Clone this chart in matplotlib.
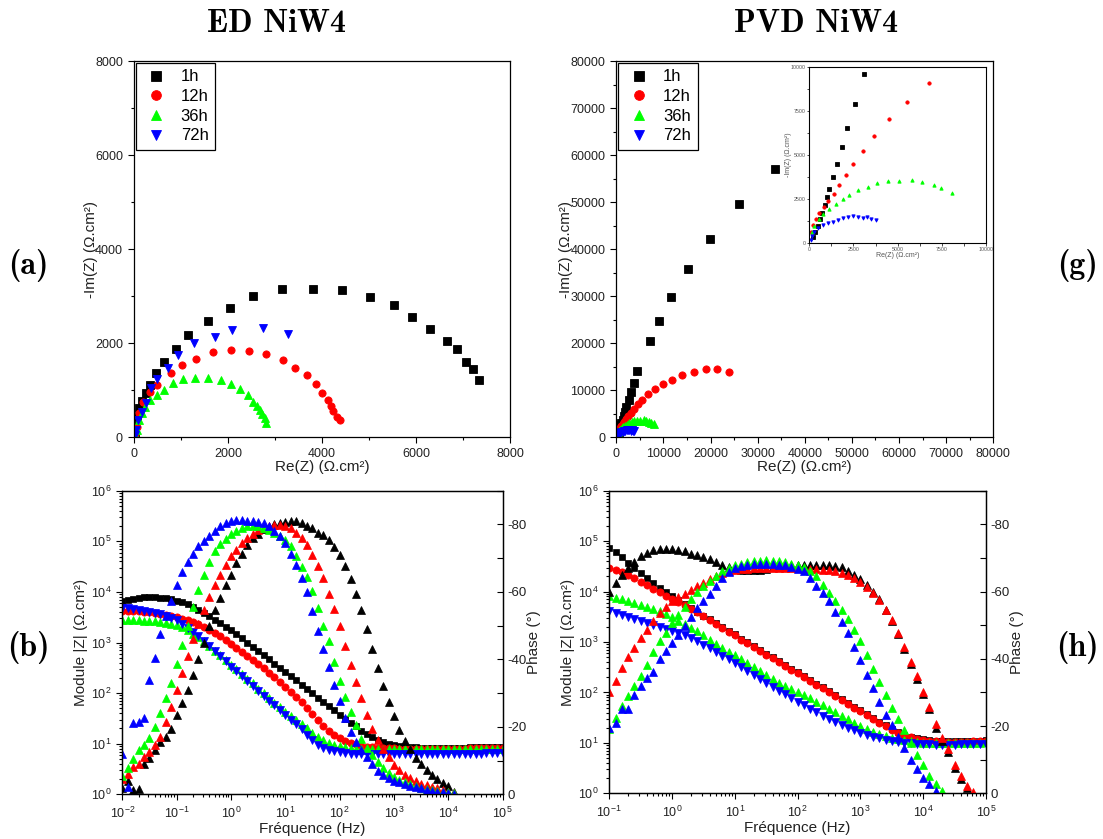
import numpy as np
import matplotlib
matplotlib.use("Agg")
import matplotlib.pyplot as plt
from matplotlib.ticker import MultipleLocator, LogLocator, NullFormatter, FuncFormatter

plt.rcParams['font.family'] = ['Liberation Sans', 'DejaVu Sans']
plt.rcParams['axes.unicode_minus'] = False
plt.rcParams['mathtext.fontset'] = 'custom'
plt.rcParams['mathtext.rm'] = 'Liberation Sans'
plt.rcParams['mathtext.it'] = 'Liberation Sans:italic'
plt.rcParams['mathtext.bf'] = 'Liberation Sans:bold'

labels = ['1h', '12h', '36h', '72h']
colors = ['#000000', '#ff0000', '#00ff00', '#0000ff']
mod_markers = ['s', 'o', '^', 'v']

# ---- Nyquist ED NiW4 (Re, -Im) in ohm.cm2
ed_re_1h = [15, 30, 57, 106, 177, 255, 340, 461, 631, 886, 1156, 1567, 2035, 2538, 3141, 3800,
            4424, 5020, 5530, 5913, 6296, 6658, 6863, 7070, 7220, 7350]
ed_im_1h = [80, 250, 440, 616, 780, 935, 1112, 1375, 1594, 1878, 2183, 2480, 2757, 3012, 3160, 3160,
            3139, 2990, 2820, 2565, 2310, 2055, 1885, 1610, 1450, 1220]
ed_re_12h = [20, 57, 113, 199, 340, 496, 780, 1021, 1319, 1687, 2056, 2446, 2815, 3162, 3432, 3680,
             3871, 4006, 4126, 4197, 4240, 4311, 4382]
ed_im_12h = [60, 227, 510, 758, 970, 1105, 1360, 1545, 1665, 1814, 1864, 1842, 1779, 1637, 1467, 1318,
             1127, 935, 801, 666, 560, 439, 368]
ed_re_36h = [30, 57, 99, 163, 234, 340, 482, 631, 822, 1049, 1297, 1567, 1850, 2056, 2262, 2432,
             2524, 2616, 2680, 2730, 2779, 2808]
ed_im_36h = [40, 156, 368, 524, 652, 794, 900, 1006, 1148, 1233, 1268, 1261, 1219, 1134, 1035, 900,
             758, 666, 581, 496, 404, 312]
ed_re_72h = [25, 50, 92, 163, 255, 355, 489, 716, 936, 1283, 1723, 2092, 2737, 3276]
ed_im_72h = [40, 156, 368, 546, 723, 1042, 1240, 1481, 1750, 1998, 2126, 2275, 2317, 2190]

# ---- Nyquist PVD NiW4 (low range, also shown in the inset)
pvd_re_1h = [189, 341, 473, 606, 739, 871, 985, 1098, 1326, 1572, 1837, 2140, 2595, 3106]
pvd_im_1h = [342, 627, 951, 1331, 1711, 2148, 2605, 3061, 3745, 4468, 5437, 6540, 7928, 9620]
pvd_re_12h = [95, 227, 379, 568, 814, 1080, 1383, 1705, 2064, 2462, 3030, 3674, 4508, 5530, 6761]
pvd_im_12h = [627, 1008, 1331, 1673, 2015, 2376, 2795, 3289, 3840, 4487, 5247, 6084, 7034, 8004, 9106]
pvd_re_36h = [133, 284, 530, 795, 1136, 1515, 1894, 2273, 2746, 3295, 3826, 4432, 5076, 5795,
              6383, 7045, 7462, 8049]
pvd_im_36h = [627, 970, 1331, 1635, 1920, 2206, 2472, 2719, 2985, 3194, 3384, 3498, 3536, 3574,
              3460, 3270, 3099, 2814]
pvd_re_72h = [76, 152, 284, 473, 758, 1042, 1326, 1610, 1894, 2178, 2500, 2784, 3030, 3258, 3504, 3788]
pvd_im_72h = [152, 380, 627, 817, 1008, 1141, 1198, 1293, 1388, 1483, 1540, 1483, 1388, 1483, 1331, 1293]
# low-frequency points beyond the inset range
pvd_re_1h_ext = [3680, 4450, 7070, 9050, 11670, 15130, 19800, 25950, 33720]
pvd_im_1h_ext = [11630, 14180, 20560, 24820, 29920, 35730, 42260, 49700, 57000]
pvd_re_12h_ext = [8200, 9970, 11800, 14000, 16470, 18950, 21420, 23900]
pvd_im_12h_ext = [10210, 11340, 12190, 13260, 13970, 14460, 14460, 13970]

# ---- Bode: frequencies (10 points per decade)
decade = [1.0, 1.259, 1.585, 1.995, 2.512, 3.162, 3.981, 5.012, 6.310, 7.943]
freq_ed = [m * 10.0 ** e for e in range(-2, 5) for m in decade] + [1e5]
freq_pvd = [m * 10.0 ** e for e in range(-1, 5) for m in decade] + [1e5]

# ED |Z| (ohm.cm2)
ed_mod_1h = [6760, 6920, 7240, 7590, 7760, 7760, 7760, 7590, 7410, 7080,
             6760, 6310, 5750, 5130, 4470, 3890, 3310, 2820, 2400, 2040,
             1740, 1450, 1200, 1000, 832, 692, 562, 468, 380, 316,
             263, 214, 178, 145, 120, 100, 81.3, 67.6, 55.0, 45.7,
             37.2, 30.9, 25.7, 21.9, 18.2, 15.8, 13.8, 12.0, 10.7, 10.0,
             9.33, 8.91, 8.71, 8.51, 8.5, 8.4, 8.4, 8.3, 8.3, 8.3,
             8.3, 8.4, 8.4, 8.4, 8.5, 8.5, 8.5, 8.6, 8.6, 8.7, 8.8]
ed_mod_12h = [4170, 4170, 4170, 4170, 4070, 3980, 3890, 3720, 3550, 3390,
              3160, 2950, 2750, 2510, 2290, 2040, 1780, 1550, 1320, 1120,
              955, 794, 661, 550, 457, 380, 309, 251, 204, 166,
              135, 107, 85.1, 66.1, 50.1, 38.0, 28.8, 22.4, 17.8, 14.8,
              12.9, 11.5, 10.5, 9.77, 9.12, 8.71, 8.51, 8.32, 8.2, 8.1,
              8.1, 8.0, 8.0, 8.0, 8.0, 8.0, 8.0, 8.0, 8.0, 8.0,
              8.0, 8.0, 8.0, 8.0, 8.1, 8.1, 8.1, 8.2, 8.2, 8.3, 8.3]
ed_mod_36h = [2820, 2820, 2750, 2750, 2690, 2690, 2630, 2570, 2450, 2340,
              2240, 2000, 1740, 1480, 1260, 1050, 851, 692, 562, 447,
              363, 295, 240, 191, 155, 123, 100, 79.4, 64.6, 52.5,
              42.7, 35.5, 29.5, 24.5, 20.0, 16.6, 13.8, 11.7, 10.5, 9.55,
              8.91, 8.51, 8.13, 7.94, 7.8, 7.8, 7.8, 7.8, 7.8, 7.8,
              7.8, 7.8, 7.8, 7.8, 7.8, 7.8, 7.8, 7.8, 7.8, 7.8,
              7.8, 7.8, 7.8, 7.7, 7.7, 7.7, 7.7, 7.7, 7.7, 7.8, 7.9]
ed_mod_72h = [4790, 4790, 4680, 4470, 4270, 4070, 3890, 3630, 3390, 3090,
              2820, 2340, 1950, 1620, 1320, 1070, 851, 692, 537, 427,
              331, 269, 219, 174, 138, 110, 89.1, 70.8, 57.5, 45.7,
              37.2, 29.5, 24.0, 19.1, 14.8, 11.7, 9.55, 8.32, 7.59, 7.08,
              6.76, 6.46, 6.3, 6.3, 6.3, 6.3, 6.3, 6.3, 6.3, 6.3,
              6.3, 6.3, 6.3, 6.3, 6.3, 6.3, 6.3, 6.3, 6.3, 6.3,
              6.3, 6.3, 6.3, 6.3, 6.3, 6.4, 6.4, 6.5, 6.5, 6.6, 6.7]

# ED phase (deg), up to the last visible point
ed_ph_1h = [-2.0, -4.0, -1.3, -1.6, -9.0, -10.8, -13.0, -15.4, -17.0, -19.5,
            -23.4, -27.2, -30.8, -35.5, -40.0, -45.0, -50.0, -54.5, -58.1, -62.0,
            -65.0, -68.5, -71.2, -73.9, -75.9, -77.3, -78.5, -79.3, -80.0, -80.5,
            -80.8, -81.0, -81.0, -80.5, -79.5, -78.8, -77.5, -76.9, -75.5, -73.2,
            -70.8, -67.6, -63.8, -59.4, -54.5, -49.1, -43.0, -37.5, -32.0, -27.4,
            -23.2, -19.0, -15.8, -13.3, -10.8, -9.0, -7.2, -5.8, -4.4, -3.3,
            -2.4, -0.8]
ed_ph_12h = [-4.5, -6.0, -8.0, -9.0, -11.0, -12.5, -14.5, -17.0, -21.5, -26.0,
             -31.0, -36.0, -41.0, -46.0, -50.5, -54.5, -58.5, -62.0, -65.0, -68.0,
             -70.5, -72.5, -74.5, -76.0, -77.3, -78.3, -79.0, -79.5, -79.8, -79.8,
             -79.6, -79.0, -77.5, -76.0, -74.0, -71.0, -67.8, -64.0, -59.5, -55.0,
             -50.0, -44.0, -38.4, -33.3, -28.4, -23.4, -19.5, -16.0, -13.5, -11.0,
             -8.8, -7.2, -5.8, -4.7, -3.8, -3.1, -2.7, -2.3, -1.8, -1.3,
             -0.8, -0.4]
ed_ph_36h = [-5.5, -7.9, -10.6, -13.0, -14.6, -16.6, -20.0, -24.1, -28.4, -33.0,
             -38.7, -44.3, -50.0, -55.5, -60.5, -65.0, -69.0, -72.0, -74.2, -75.7,
             -77.1, -78.1, -78.8, -79.4, -79.5, -79.4, -79.0, -78.3, -77.5, -76.7,
             -75.5, -73.5, -70.5, -67.5, -64.5, -60.2, -55.3, -50.0, -45.3, -39.2,
             -33.5, -28.8, -24.5, -20.6, -16.5, -13.6, -11.6, -9.6, -7.8, -6.3,
             -5.0, -4.1, -3.5, -3.0, -2.4, -2.0, -1.6, -1.3, -1.0, -0.8,
             -0.6, -0.3]
ed_ph_72h = [-12.0, -2.3, -21.0, -21.5, -22.5, -34.0, -40.4, -47.5, -53.0, -57.4,
             -62.0, -66.0, -68.8, -71.2, -73.5, -75.0, -76.7, -78.1, -79.5, -80.4,
             -80.9, -81.2, -81.3, -81.1, -80.9, -80.8, -80.5, -79.5, -78.0, -76.5,
             -74.5, -71.2, -68.0, -64.0, -60.0, -54.2, -48.5, -43.0, -37.8, -32.5,
             -27.6, -22.5, -18.5, -15.5, -13.0, -11.0, -8.9, -7.0, -5.8, -4.8,
             -4.0, -3.5, -3.0, -2.6, -2.2, -1.8, -1.4, -1.1, -0.8, -0.6,
             -0.3, -0.1]

# PVD |Z| (ohm.cm2)
pvd_mod_1h = [72400, 60300, 47900, 37200, 28800, 22900, 18200, 14800, 12000, 9770,
              8130, 6760, 5620, 4680, 3980, 3310, 2820, 2340, 2000, 1660,
              1410, 1170, 1000, 832, 708, 589, 501, 417, 355, 295,
              251, 209, 178, 148, 126, 105, 89.1, 74.1, 63.1, 52.5,
              44.7, 37.2, 31.6, 26.3, 22.4, 19.1, 16.2, 14.5, 13.2, 12.3,
              11.7, 11.2, 11.0, 10.8, 10.7, 10.7, 10.8, 10.8, 10.9, 11.0, 11.2]
pvd_mod_12h = [29500, 26900, 24000, 21400, 18600, 15800, 13500, 11500, 9770, 8320,
               7240, 6170, 5370, 4570, 3890, 3310, 2690, 2240, 1910, 1580,
               1350, 1120, 955, 794, 676, 562, 479, 398, 339, 282,
               240, 200, 170, 141, 120, 100, 85.1, 70.8, 60.3, 50.1,
               42.7, 35.5, 30.2, 25.1, 21.4, 18.2, 15.8, 14.1, 12.9, 12.0,
               11.5, 11.0, 10.7, 10.5, 10.5, 10.5, 10.6, 10.6, 10.7, 10.8, 11.0]
pvd_mod_36h = [8320, 7590, 7080, 6610, 6030, 5500, 5010, 4570, 4070, 3550,
               3090, 2630, 2240, 1910, 1620, 1350, 1120, 933, 776, 646,
               550, 457, 380, 316, 263, 219, 182, 155, 132, 115,
               100, 87.1, 75.9, 64.6, 56.2, 47.9, 40.7, 34.7, 29.5, 25.1,
               21.9, 19.1, 16.6, 14.8, 13.5, 12.6, 11.7, 11.2, 10.7, 10.2,
               10.0, 10.0, 9.9, 9.9, 9.9, 9.9, 9.9, 10.0, 10.0, 10.1, 10.2]
pvd_mod_72h = [4170, 3800, 3470, 3160, 2880, 2630, 2400, 2190, 2000, 1820,
               1660, 1510, 1350, 1200, 1050, 891, 759, 631, 537, 457,
               380, 316, 263, 219, 182, 151, 126, 107, 91.2, 77.6,
               66.1, 56.2, 47.9, 40.7, 34.7, 30.2, 26.3, 22.9, 20.0, 17.8,
               15.8, 14.5, 13.2, 12.3, 11.5, 11.0, 10.5, 10.0, 9.77, 9.55,
               9.3, 9.3, 9.2, 9.2, 9.2, 9.2, 9.3, 9.3, 9.4, 9.5, 9.6]

# PVD phase (deg)
pvd_ph_1h = [-60.0, -62.5, -65.0, -67.0, -68.7, -70.5, -71.5, -72.5, -72.7, -72.7,
             -72.6, -72.3, -72.0, -71.3, -70.8, -70.3, -69.7, -68.8, -68.0, -67.3,
             -66.8, -66.5, -66.3, -66.3, -66.5, -66.8, -67.2, -67.6, -67.9, -68.0,
             -68.0, -68.0, -68.0, -68.0, -68.0, -67.9, -67.7, -67.2, -66.2, -65.0,
             -63.6, -62.1, -59.9, -57.7, -54.5, -51.3, -47.3, -43.0, -38.5, -34.0,
             -29.5, -25.0, -19.5, -15.5, -12.3, -7.5, -4.4, -1.5]
pvd_ph_12h = [-30.0, -33.5, -37.3, -40.5, -43.2, -46.2, -48.7, -51.3, -53.6, -55.5,
              -57.3, -58.3, -59.2, -60.6, -61.6, -62.6, -63.6, -64.5, -65.4, -66.0,
              -66.5, -66.7, -66.8, -66.9, -67.0, -67.0, -67.1, -67.1, -67.1, -67.0,
              -66.9, -66.8, -66.8, -66.7, -66.5, -66.3, -66.0, -65.6, -65.0, -64.0,
              -62.8, -61.5, -59.5, -57.5, -54.5, -51.5, -47.8, -43.6, -39.2, -34.8,
              -30.2, -25.8, -20.5, -16.5, -13.3, -8.5, -5.2, -2.3, -0.3]
pvd_ph_36h = [-19.0, -22.5, -26.0, -29.0, -32.0, -35.0, -38.3, -42.0, -45.3, -47.8,
              -50.6, -53.1, -55.4, -57.7, -60.0, -61.6, -63.1, -64.5, -66.0, -67.0,
              -67.8, -68.3, -68.8, -69.0, -69.2, -69.3, -69.2, -69.1, -68.8, -68.3,
              -67.8, -67.2, -66.2, -64.6, -62.1, -59.6, -57.2, -54.4, -51.8, -48.6,
              -45.2, -41.2, -37.0, -33.2, -29.1, -25.3, -22.2, -18.8, -15.0, -11.5,
              -8.3, -5.2, -2.7, -0.8]
pvd_ph_72h = [-19.5, -21.0, -25.0, -25.2, -29.3, -32.0, -34.2, -36.2, -40.0, -42.3,
              -44.6, -47.2, -49.8, -52.4, -55.0, -57.2, -59.3, -61.6, -64.0, -65.8,
              -66.9, -67.6, -68.0, -68.2, -68.3, -68.3, -68.2, -68.0, -67.8, -67.4,
              -66.7, -66.0, -64.1, -61.8, -59.7, -57.2, -54.0, -51.0, -47.8, -43.6,
              -39.6, -35.3, -31.3, -27.3, -23.4, -20.2, -16.8, -13.5, -10.0, -7.1,
              -4.6, -2.7, -0.7]

TXT = '#222222'
W, H = 1103, 839


def rect(left, top, right, bottom):
    return [left / W, 1 - bottom / H, (right - left) / W, (bottom - top) / H]


def pow10(v, pos):
    return '$10^{%d}$' % int(round(np.log10(v)))


def style_axis(ax, size=9):
    for s in ax.spines.values():
        s.set_linewidth(0.9)
    ax.tick_params(which='both', direction='out', top=False, right=False,
                   labelsize=size, labelcolor=TXT)
    ax.tick_params(which='major', length=4.5, width=0.8)
    ax.tick_params(which='minor', length=2.5, width=0.8)


def nyquist(ax, res, ims, lim, major, minor, ms, legend=True):
    for x, y, c, mk, lab in zip(res, ims, colors, mod_markers, labels):
        ax.plot(x, y, ls='none', marker=mk, color=c, ms=ms, mew=0.6, label=lab)
    ax.set_xlim(0, lim)
    ax.set_ylim(0, lim)
    ax.xaxis.set_major_locator(MultipleLocator(major))
    ax.yaxis.set_major_locator(MultipleLocator(major))
    ax.xaxis.set_minor_locator(MultipleLocator(minor))
    ax.yaxis.set_minor_locator(MultipleLocator(minor))
    if legend:
        leg = ax.legend(loc='upper left', bbox_to_anchor=(0, 1), borderaxespad=0.1,
                        fontsize=12, fancybox=False, edgecolor='black', framealpha=1,
                        handlelength=1.7, handletextpad=0.6, borderpad=0.4,
                        labelspacing=0.28, markerscale=1.35, numpoints=1)
        leg.get_frame().set_linewidth(0.9)


def bode(ax, freq, mods, phases, xmin):
    sizes = [4.6, 5.2, 5.6, 5.6]
    for mod, c, mk, ms in zip(mods, colors, mod_markers, sizes):
        ax.plot(freq[:len(mod)], mod, ls='none', marker=mk, color=c, ms=ms, mew=0.5)
    ax.set_xscale('log')
    ax.set_yscale('log')
    ax.set_xlim(xmin, 1e5)
    ax.set_ylim(1, 1e6)
    for axis in (ax.xaxis, ax.yaxis):
        axis.set_major_locator(LogLocator(base=10, numticks=20))
        axis.set_major_formatter(FuncFormatter(pow10))
        axis.set_minor_locator(LogLocator(base=10, subs=np.arange(2, 10), numticks=20))
        axis.set_minor_formatter(NullFormatter())
    style_axis(ax, 9)
    ax.set_xlabel('Fréquence (Hz)', fontsize=11, color=TXT, labelpad=1)
    ax.set_ylabel('Module |Z| (Ω.cm²)', fontsize=11, color=TXT, labelpad=2)

    ax2 = ax.twinx()
    for ph, c in zip(phases, colors):
        ax2.plot(freq[:len(ph)], ph, ls='none', marker='^', color=c, ms=5.6, mew=0.5)
    ax2.set_ylim(0, -90)
    ax2.yaxis.set_major_locator(MultipleLocator(20))
    ax2.yaxis.set_minor_locator(MultipleLocator(10))
    ax2.tick_params(which='both', direction='in', length=4.5, width=0.8,
                    labelsize=9.5, labelcolor=TXT)
    for s in ax2.spines.values():
        s.set_linewidth(0.9)
    return ax2


fig = plt.figure(figsize=(W / 100, H / 100), dpi=100)

# (a) ED Nyquist
ax_a = fig.add_axes(rect(134, 61, 510, 437.3))
nyquist(ax_a, [ed_re_1h, ed_re_12h, ed_re_36h, ed_re_72h],
        [ed_im_1h, ed_im_12h, ed_im_36h, ed_im_72h], 8000, 2000, 1000, 5.2)
style_axis(ax_a, 9)
ax_a.set_xlabel('Re(Z) (Ω.cm²)', fontsize=11, color=TXT, labelpad=0)
ax_a.set_ylabel('-Im(Z) (Ω.cm²)', fontsize=11, color=TXT, labelpad=-2)

# (g) PVD Nyquist
ax_g = fig.add_axes(rect(616.3, 61, 993.3, 437.3))
nyquist(ax_g, [pvd_re_1h + pvd_re_1h_ext, pvd_re_12h + pvd_re_12h_ext, pvd_re_36h, pvd_re_72h],
        [pvd_im_1h + pvd_im_1h_ext, pvd_im_12h + pvd_im_12h_ext, pvd_im_36h, pvd_im_72h],
        80000, 10000, 5000, 5.2)
style_axis(ax_g, 9)
ax_g.set_xlabel('Re(Z) (Ω.cm²)', fontsize=11, color=TXT, labelpad=0)
ax_g.set_ylabel('-Im(Z) (Ω.cm²)', fontsize=11, color=TXT, labelpad=-2)

# inset of (g)
ax_in = fig.add_axes(rect(809.3, 67.3, 986, 242.7))
nyquist(ax_in, [pvd_re_1h, pvd_re_12h, pvd_re_36h, pvd_re_72h],
        [pvd_im_1h, pvd_im_12h, pvd_im_36h, pvd_im_72h], 10000, 2500, 1250, 2.4, legend=False)
for s in ax_in.spines.values():
    s.set_linewidth(0.8)
ax_in.tick_params(which='both', direction='out', labelsize=3.8, labelcolor='#555555',
                  length=1.8, width=0.5, pad=1)
ax_in.set_xlabel('Re(Z) (Ω.cm²)', fontsize=5, color='#555555', labelpad=0.5)
ax_in.set_ylabel('-Im(Z) (Ω.cm²)', fontsize=5, color='#555555', labelpad=-1)

# (b) ED Bode
ax_b = fig.add_axes(rect(122.3, 490.7, 502.7, 794.3))
ax_b2 = bode(ax_b, freq_ed, [ed_mod_1h, ed_mod_12h, ed_mod_36h, ed_mod_72h],
             [ed_ph_1h, ed_ph_12h, ed_ph_36h, ed_ph_72h], 1e-2)
ax_b2.set_ylabel('Phase (°)', fontsize=11, color=TXT, labelpad=0)

# (h) PVD Bode
ax_h = fig.add_axes(rect(609.3, 490.7, 986, 793.3))
ax_h2 = bode(ax_h, freq_pvd, [pvd_mod_1h, pvd_mod_12h, pvd_mod_36h, pvd_mod_72h],
             [pvd_ph_1h, pvd_ph_12h, pvd_ph_36h, pvd_ph_72h], 1e-1)
ax_h2.set_ylabel('Phase (°)', fontsize=11, color=TXT, labelpad=0)

# titles and panel letters
cm = dict(fontfamily='cmb10', fontsize=23, ha='center', va='center')
fig.text(276 / W, 1 - 23 / H, 'ED NiW4', **cm)
fig.text(816 / W, 1 - 23 / H, 'PVD NiW4', **cm)
fig.text(28 / W, 1 - 266 / H, '(a)', **cm)
fig.text(28 / W, 1 - 647 / H, '(b)', **cm)
fig.text(1077 / W, 1 - 266 / H, '(g)', **cm)
fig.text(1077 / W, 1 - 647 / H, '(h)', **cm)

fig.savefig('out.png', dpi=100)
